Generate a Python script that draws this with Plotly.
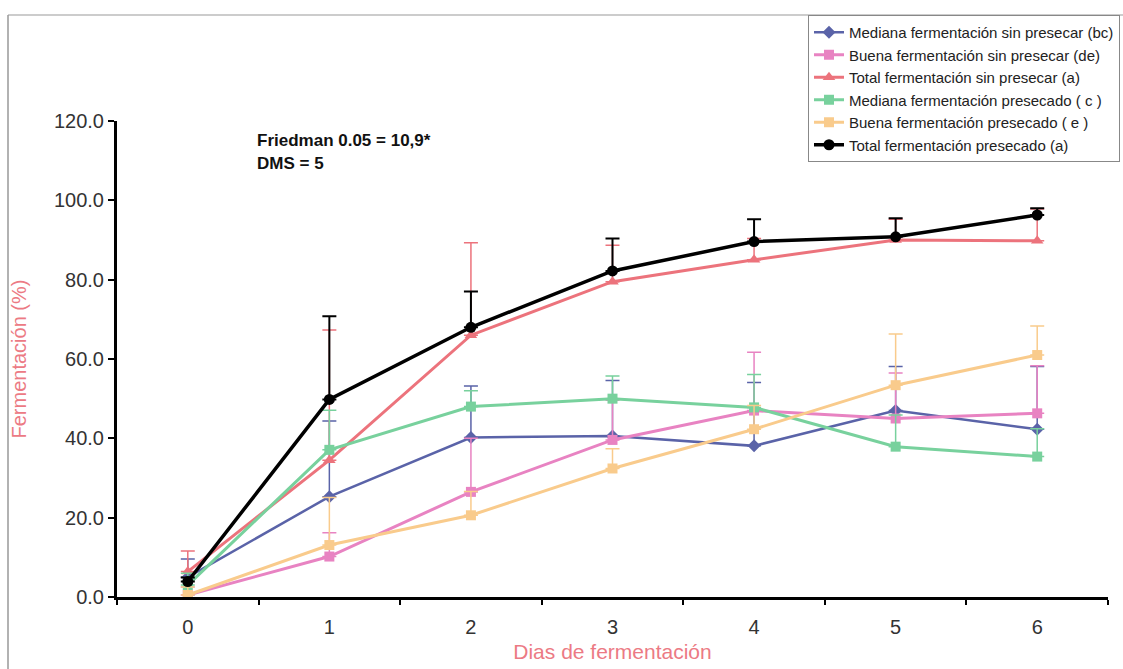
import plotly.graph_objects as go

# Fermentation days (categorical axis)
dias = ["0", "1", "2", "3", "4", "5", "6"]

# Mean fermentation (%) per treatment
mediana_sin = [5.0, 25.3, 40.2, 40.6, 38.1, 47.0, 42.3]
buena_sin = [0.5, 10.2, 26.5, 39.6, 47.0, 45.0, 46.3]
total_sin = [6.4, 34.5, 66.0, 79.5, 85.0, 90.0, 89.8]
mediana_pre = [3.0, 37.1, 48.0, 50.0, 47.8, 37.9, 35.4]
buena_pre = [0.5, 13.1, 20.6, 32.4, 42.3, 53.4, 61.0]
total_pre = [3.9, 49.8, 68.0, 82.2, 89.6, 90.8, 96.3]

# Upper error bars
err_mediana_sin = [4.6, 19.1, 13.0, 14.0, 16.0, 11.1, 15.8]
err_buena_sin = [2.0, 6.0, 13.5, 10.0, 14.7, 11.5, 12.0]
err_total_sin = [5.2, 32.8, 23.3, 9.2, 5.4, 5.2, 8.0]
err_mediana_pre = [3.0, 10.0, 4.0, 5.7, 8.3, 8.0, 7.0]
err_buena_pre = [2.0, 12.0, 6.0, 5.0, 6.0, 12.9, 7.3]
err_total_pre = [1.0, 21.0, 9.0, 8.2, 5.6, 4.7, 1.7]

nombres = [
    "Mediana fermentación sin presecar (bc)",
    "Buena fermentación sin presecar (de)",
    "Total fermentación sin presecar (a)",
    "Mediana fermentación presecado ( c )",
    "Buena fermentación presecado ( e )",
    "Total fermentación presecado (a)",
]

series = [
    (mediana_sin, err_mediana_sin, "#5a63a8", "diamond", 10, 2.5),
    (buena_sin, err_buena_sin, "#e883c2", "square", 10, 3),
    (total_sin, err_total_sin, "#ec737c", "triangle-up", 11, 3),
    (mediana_pre, err_mediana_pre, "#78d19d", "square", 10, 3),
    (buena_pre, err_buena_pre, "#f9cb8c", "square", 10, 3),
    (total_pre, err_total_pre, "#000000", "circle", 11, 3.5),
]

# plot area in pixels: x 117..1108, y 121..597
L, R, T, B = 117, 1108, 121, 597
W, H = R - L, B - T


def px(x):
    return (x - L) / W


def py(y):
    return (B - y) / H


fig = go.Figure()
for nombre, (vals, errs, color, simbolo, tam, ancho) in zip(nombres, series):
    fig.add_trace(go.Scatter(
        x=dias, y=vals, name=nombre, mode="lines+markers",
        line=dict(color=color, width=ancho),
        marker=dict(symbol=simbolo, size=tam, color=color),
        error_y=dict(type="data", symmetric=False, array=errs,
                     arrayminus=[0] * len(errs), color=color,
                     thickness=2 if color == "#000000" else 1.5, width=7),
    ))

fig.update_layout(
    width=1123, height=669,
    margin=dict(l=L, r=1123 - R, t=T, b=669 - B, autoexpand=False),
    paper_bgcolor="white", plot_bgcolor="white",
    font=dict(family="Liberation Sans, Arial, sans-serif", color="#333333"),
    legend=dict(
        xref="paper", yref="paper",
        x=px(1120), xanchor="right", y=py(15), yanchor="top",
        bgcolor="white", bordercolor="#888888", borderwidth=1,
        font=dict(size=15, color="#222222"),
        tracegroupgap=0, itemwidth=30,
    ),
    xaxis=dict(
        type="category", range=[-0.5, 6.5], autorange=False,
        tickson="boundaries", ticks="outside", ticklen=5,
        tickwidth=2, tickcolor="black",
        showline=True, linecolor="black", linewidth=3,
        showgrid=False, zeroline=False, ticklabelstandoff=10,
        tickfont=dict(size=20, color="#333333"),
        title=dict(text="Dias de fermentación",
                   font=dict(size=21, color="#ec7a84"), standoff=8),
    ),
    yaxis=dict(
        range=[0, 120], tickvals=[0, 20, 40, 60, 80, 100, 120],
        tickformat=".1f", ticks="outside", ticklen=6, tickwidth=2,
        tickcolor="black", showline=True, linecolor="black", linewidth=3,
        showgrid=False, zeroline=False,
        tickfont=dict(size=20, color="#333333"),
        title=dict(text="Fermentación (%)",
                   font=dict(size=20, color="#ec7a84"), standoff=22),
    ),
)

fig.add_annotation(
    xref="paper", yref="paper", x=px(255), y=py(141),
    xanchor="left", yanchor="middle", showarrow=False,
    text="<b>Friedman 0.05 = 10,9*</b>", font=dict(size=17, color="#111111"),
)
fig.add_annotation(
    xref="paper", yref="paper", x=px(255), y=py(163),
    xanchor="left", yanchor="middle", showarrow=False,
    text="<b>DMS = 5</b>", font=dict(size=17, color="#111111"),
)

# Chart frame (left and top edges)
fig.add_shape(type="line", xref="paper", yref="paper",
              x0=px(8), x1=px(8), y0=py(669), y1=py(15),
              line=dict(color="#999999", width=1.5))
fig.add_shape(type="line", xref="paper", yref="paper",
              x0=px(8), x1=px(1123), y0=py(15), y1=py(15),
              line=dict(color="#999999", width=1))

fig.write_html("out.html")
